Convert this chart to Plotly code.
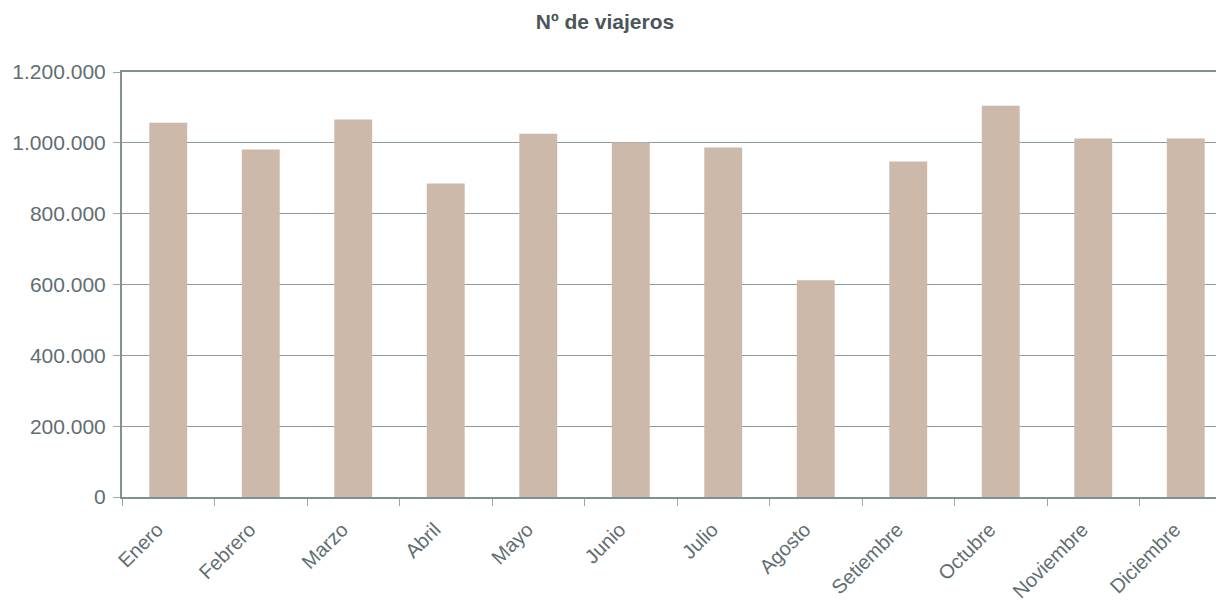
import plotly.graph_objects as go

months = ["Enero", "Febrero", "Marzo", "Abril", "Mayo", "Junio", "Julio",
          "Agosto", "Setiembre", "Octubre", "Noviembre", "Diciembre"]
viajeros = [1057000, 981000, 1066000, 885000, 1026000, 1001000, 987000,
            612000, 947000, 1105000, 1012000, 1012000]
y_ticks = [0, 200000, 400000, 600000, 800000, 1000000, 1200000]

fig = go.Figure(go.Bar(x=months, y=viajeros, marker=dict(color="#cdb9aa", line=dict(width=0))))

W, H = 1224, 596
fig.update_layout(
    width=W, height=H,
    margin=dict(l=114, r=0, t=64, b=107),
    paper_bgcolor="white", plot_bgcolor="white",
    separators=",.",
    bargap=0.59,
    showlegend=False,
    font=dict(family="Liberation Sans, Arial, sans-serif", color="#5f6e72"),
    title=dict(text="<b>Nº de viajeros</b>", xref="container", x=597/W, xanchor="center",
               yref="container", y=1-14/H, yanchor="middle",
               font=dict(size=21, color="#4a5658")),
)
fig.update_xaxes(
    type="category", range=[-0.5, 11.5], automargin=False,
    showline=True, linecolor="#7f9292", linewidth=2, mirror=True,
    ticks="outside", tickson="boundaries", ticklen=7, tickcolor="#9aa8a8", tickwidth=1,
    tickangle=-45, tickfont=dict(size=20, color="#5f6e72"),
    ticklabelshift=-11, ticklabelstandoff=11,
    showgrid=False,
)
fig.update_yaxes(
    range=[0, 1200000], tickvals=y_ticks, tickformat=",.0f", automargin=False,
    showline=True, linecolor="#7f9292", linewidth=2,
    ticks="outside", ticklen=7, tickcolor="#9aa8a8", tickwidth=1,
    ticklabelstandoff=3,
    tickfont=dict(size=21, color="#5f6e72"),
    showgrid=True, gridcolor="#8c9c9c", gridwidth=1,
    zeroline=False,
)
fig.write_html("out.html")
